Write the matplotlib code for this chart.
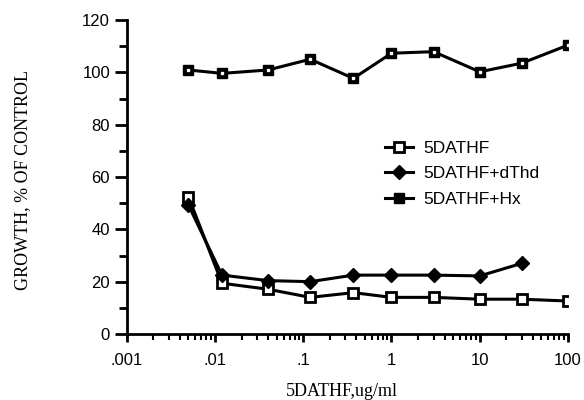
import numpy as np
import matplotlib
matplotlib.use("Agg")
import matplotlib.pyplot as plt
from matplotlib.ticker import LogLocator, NullFormatter, MultipleLocator

# concentrations, ug/ml
conc = [0.005, 0.012, 0.04, 0.12, 0.37, 1, 3, 10, 30, 100]
conc_dthd = conc[:9]

# growth, % of control
growth_5dathf = [52.5, 19.4, 17.1, 14.0, 15.8, 14.0, 14.0, 13.3, 13.3, 12.6]
growth_dthd = [49.3, 22.5, 20.4, 20.0, 22.5, 22.5, 22.5, 22.2, 27.0]
growth_hx = [100.9, 99.6, 100.9, 105.0, 97.7, 107.3, 107.9, 100.2, 103.5, 110.4]

xticks = [0.001, 0.01, 0.1, 1, 10, 100]
xticklabels = [".001", ".01", ".1", "1", "10", "100"]
yticks = [0, 20, 40, 60, 80, 100, 120]

sans = "Liberation Sans"
serif = "Liberation Serif"

fig = plt.figure(figsize=(5.84, 4.0), dpi=100)
ax = fig.add_axes([0.217, 0.165, 0.7556, 0.785])

lw = 2.2
ax.plot(conc, growth_5dathf, color="black", lw=lw, marker="s", ms=7,
        mfc="white", mec="black", mew=2, label="5DATHF", zorder=3)
ax.plot(conc_dthd, growth_dthd, color="black", lw=lw, marker="D", ms=7,
        mfc="black", mec="black", label="5DATHF+dThd", zorder=3)
ax.plot(conc, growth_hx, color="black", lw=lw, marker="s", ms=7,
        mfc="black", mec="black", label="5DATHF+Hx", zorder=3)
ax.plot(conc, growth_hx, ls="none", marker="s", ms=1.5, mfc="white",
        mec="white", zorder=4)

ax.set_xscale("log")
ax.set_xlim(0.001, 100)
ax.set_ylim(0, 120)

ax.set_xticks(xticks)
ax.set_xticklabels(xticklabels, fontfamily=sans, fontsize=12)
ax.xaxis.set_minor_locator(LogLocator(base=10, subs=np.arange(2, 10)))
ax.xaxis.set_minor_formatter(NullFormatter())
ax.set_yticks(yticks)
ax.set_yticklabels([str(v) for v in yticks], fontfamily=sans, fontsize=12)
ax.yaxis.set_minor_locator(MultipleLocator(10))

for s in ["top", "right"]:
    ax.spines[s].set_visible(False)
for s in ["left", "bottom"]:
    ax.spines[s].set_linewidth(2)

ax.tick_params(axis="y", which="major", direction="out", length=9, width=2, pad=3)
ax.tick_params(axis="y", which="minor", direction="out", length=6, width=2)
ax.tick_params(axis="x", which="major", direction="out", length=6, width=2, pad=8)
ax.tick_params(axis="x", which="minor", direction="out", length=4, width=1.5)

fig.text(0.585, 0.011, "5DATHF,ug/ml", family=serif, fontsize=13,
         ha="center", va="baseline")
fig.text(0.0385, 0.549, "GROWTH, % OF CONTROL", family=serif, fontsize=13,
         rotation=90, ha="center", va="center")

leg = ax.legend(loc="center left", bbox_to_anchor=(0.585, 0.51),
                frameon=False, borderpad=0, borderaxespad=0,
                handlelength=1.6, handletextpad=0.6, labelspacing=0.6,
                prop={"family": sans, "size": 12.5})

fig.savefig("out.png", dpi=100)
